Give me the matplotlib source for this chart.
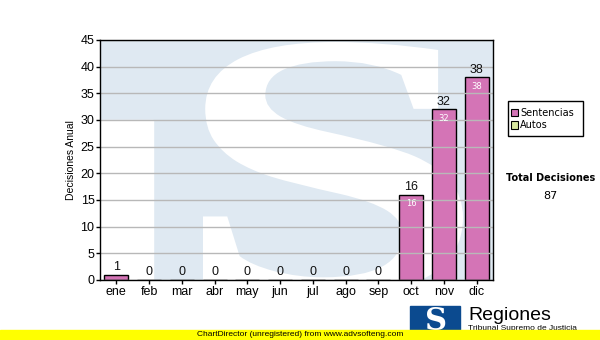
import matplotlib
matplotlib.use("Agg")
import matplotlib.pyplot as plt
from matplotlib.patches import Rectangle, PathPatch
from matplotlib.textpath import TextPath
from matplotlib.font_manager import FontProperties
from matplotlib.transforms import Affine2D

# datos
meses = ["ene", "feb", "mar", "abr", "may", "jun", "jul", "ago", "sep", "oct", "nov", "dic"]
sentencias = [1, 0, 0, 0, 0, 0, 0, 0, 0, 16, 32, 38]
autos = [0, 0, 0, 0, 0, 0, 0, 0, 0, 0, 0, 0]
total = 87
yticks = list(range(0, 50, 5))

rosa = "#d474b6"
verde = "#d8e8a0"
azul_claro = "#dfe9f2"

fig = plt.figure(figsize=(6, 3.4), dpi=100)
W, H = 600, 340
ax = fig.add_axes([100 / W, 60 / H, 393 / W, 240 / H])
ax.set_xlim(-0.5, 11.5)
ax.set_ylim(0, 45)

# marca de agua (logo TS) en el fondo
ax.add_patch(Rectangle((0, 0), 1, 1, transform=ax.transAxes, color=azul_claro, zorder=0))
ax.add_patch(Rectangle((0, 0), 53 / 393, 160 / 240, transform=ax.transAxes, color="white", zorder=0))
tp = TextPath((0, 0), "S", size=100, prop=FontProperties(family="Liberation Serif", weight="bold"))
bb = tp.get_extents()
x0, x1 = 103 / 393, 363 / 393
y0, y1 = -16 / 240, 238 / 240
tr = Affine2D().translate(-bb.x0, -bb.y0).scale((x1 - x0) / bb.width, (y1 - y0) / bb.height).translate(x0, y0)
ax.add_patch(PathPatch(tr.transform_path(tp), transform=ax.transAxes, color="white", lw=0, zorder=0.5))

ax.grid(axis="y", color="#b8b8b8", lw=1, zorder=1)
ax.set_axisbelow(False)

x = range(len(meses))
bars = ax.bar(x, sentencias, width=0.73, color=rosa, edgecolor="black", lw=1, zorder=2)

for xi, v in zip(x, sentencias):
    ax.text(xi, v + 0.3, str(v), ha="center", va="bottom", fontsize=9,
            family="Liberation Sans", color="#111111", zorder=3)
    if v >= 5:
        ax.text(xi, v - 0.8, str(v), ha="center", va="top", fontsize=6,
                family="DejaVu Sans", color="white", zorder=3)

ax.set_xticks(list(x))
ax.set_xticklabels(meses, family="Liberation Sans", fontsize=9)
ax.set_yticks(yticks)
ax.set_yticklabels([str(t) for t in yticks], family="Liberation Sans", fontsize=9)
ax.tick_params(direction="out", length=3, width=1, pad=1)
for s in ax.spines.values():
    s.set_color("black")
    s.set_linewidth(1)
    s.set_zorder(10)
ax.set_ylabel("Decisiones Anual", family="Liberation Sans", fontsize=7.5, labelpad=3)

# leyenda
fig.patches.append(Rectangle((508 / W, 1 - 136 / H), 75 / W, 35 / H, transform=fig.transFigure,
                             fill=False, edgecolor="black", lw=1))
for i, (lab, col) in enumerate([("Sentencias", rosa), ("Autos", verde)]):
    yy = 1 - (113 + 12 * i) / H
    fig.patches.append(Rectangle((511 / W, yy - 3.5 / H), 7 / W, 7 / H, transform=fig.transFigure,
                                 facecolor=col, edgecolor="black", lw=0.8))
    fig.text(520 / W, yy, lab, fontsize=7, family="DejaVu Sans", va="center", ha="left")

fig.text(551 / W, 1 - 178 / H, "Total Decisiones", fontsize=7, family="DejaVu Sans",
         weight="bold", ha="center", va="center")
fig.text(550 / W, 1 - 196 / H, str(total), fontsize=8, family="DejaVu Sans",
         ha="center", va="center")

# logo inferior
fig.patches.append(Rectangle((410 / W, 1 - 334 / H), 50 / W, 28 / H, transform=fig.transFigure,
                             color="#0b4a8f"))
fig.text(436 / W, 1 - 321 / H, "S", fontsize=22, family="DejaVu Serif", weight="bold",
         color="white", ha="center", va="center")
fig.text(468 / W, 1 - 315 / H, "Regiones", fontsize=14, family="Liberation Sans",
         ha="left", va="center")
fig.text(468 / W, 1 - 328 / H, "Tribunal Supremo de Justicia", fontsize=6, family="Liberation Sans",
         ha="left", va="center")

# banda amarilla
fig.patches.append(Rectangle((0, 0), 1, 10 / H, transform=fig.transFigure, color="#ffff00", zorder=5))
fig.text(0.5, 5 / H, "ChartDirector (unregistered) from www.advsofteng.com", fontsize=6,
         family="Liberation Sans", ha="center", va="center", zorder=6)

fig.savefig("out.png", dpi=100)
